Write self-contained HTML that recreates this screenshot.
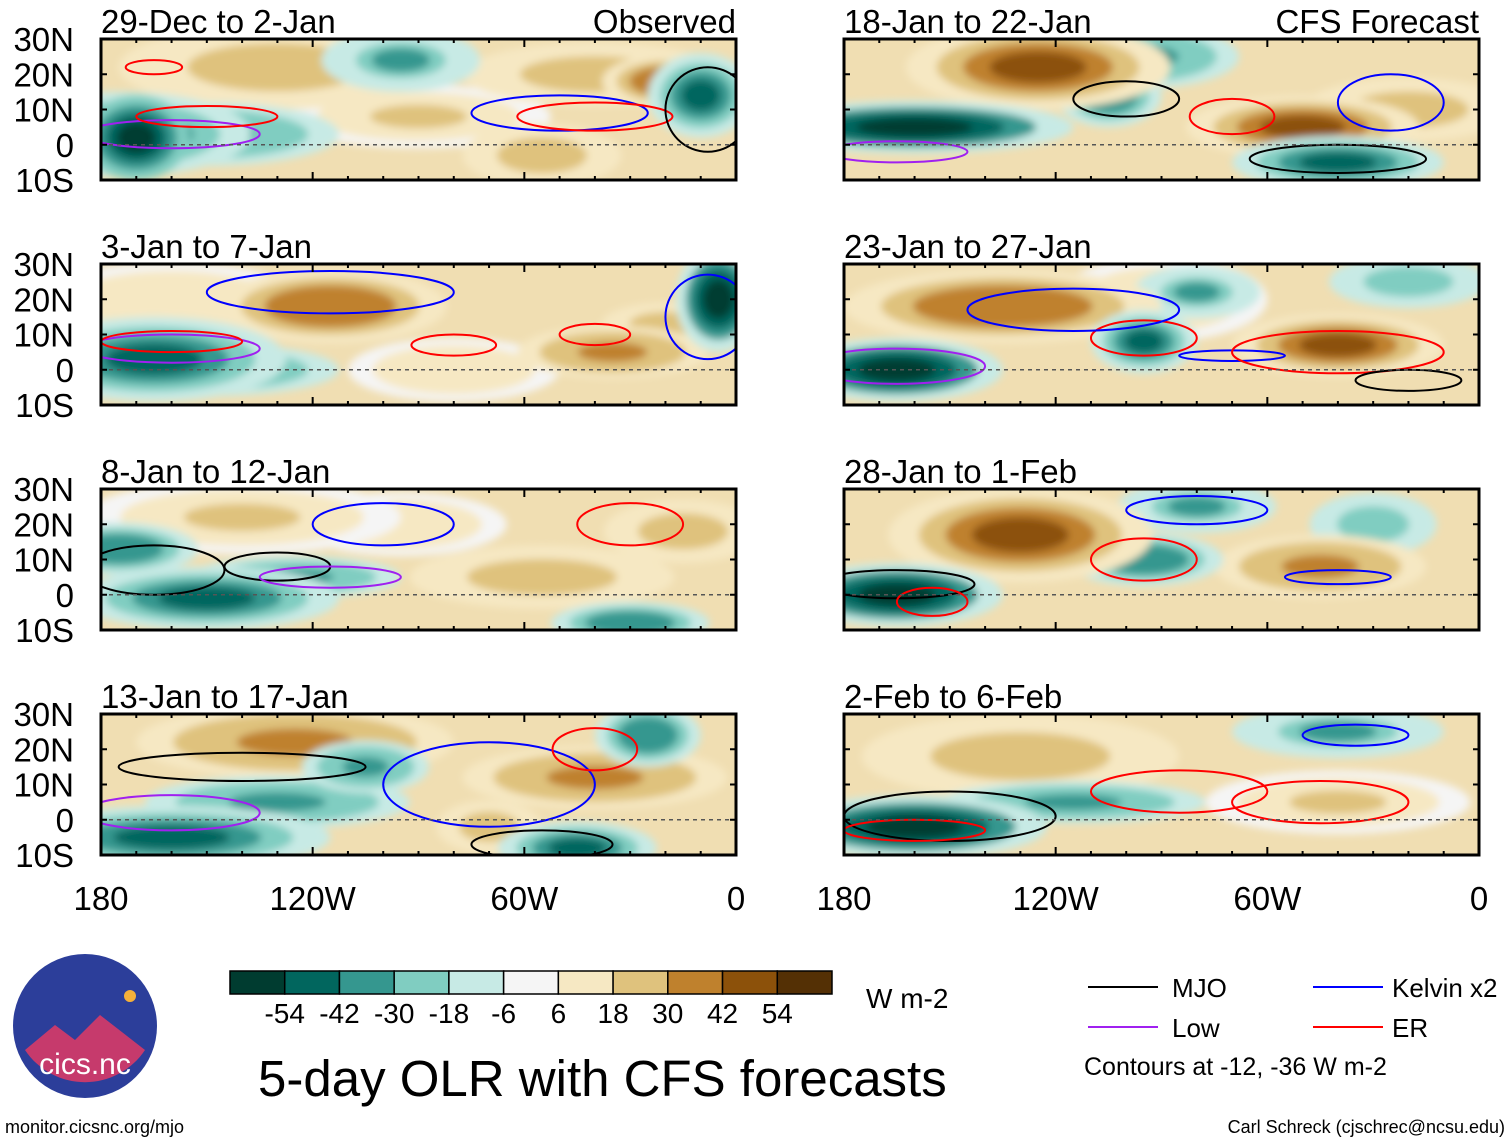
<!DOCTYPE html>
<html><head><meta charset="utf-8"><style>
html,body{margin:0;padding:0;background:#fff;}
svg{display:block;font-family:"Liberation Sans",sans-serif;}
</style></head><body>
<svg id="chart" width="1510" height="1142" viewBox="0 0 1510 1142" xmlns="http://www.w3.org/2000/svg">
<defs>
<filter id="blur" x="-50%" y="-50%" width="200%" height="200%"><feGaussianBlur stdDeviation="4"/></filter>
</defs>
<g id="panels"></g>
<g id="colorbar"></g>
<text x="866" y="1008" font-size="28">W m-2</text>
<text x="258" y="1096" font-size="51">5-day OLR with CFS forecasts</text>
<g font-size="26">
<line x1="1088" y1="987" x2="1158" y2="987" stroke="#000" stroke-width="2"/><text x="1172" y="997">MJO</text>
<line x1="1313" y1="987" x2="1383" y2="987" stroke="#0000ff" stroke-width="2"/><text x="1392" y="997">Kelvin x2</text>
<line x1="1088" y1="1027" x2="1158" y2="1027" stroke="#a020f0" stroke-width="2"/><text x="1172" y="1037">Low</text>
<line x1="1313" y1="1027" x2="1383" y2="1027" stroke="#ff0000" stroke-width="2"/><text x="1392" y="1037">ER</text>
<text x="1084" y="1075" font-size="25">Contours at -12, -36 W m-2</text>
</g>
<g>
<circle cx="85" cy="1026" r="72" fill="#2c3e9a"/>
<path d="M25,1050 L55,1025 L75,1040 L100,1015 L145,1050 A72,72 0 0 1 25,1050Z" fill="#c63a6c"/>
<circle cx="130" cy="996" r="6" fill="#f5b03a"/>
<text x="85" y="1074" font-size="30" fill="#fff" text-anchor="middle">cics.nc</text>
</g>
<text x="5" y="1133" font-size="18">monitor.cicsnc.org/mjo</text>
<text x="1505" y="1133" font-size="18" text-anchor="end">Carl Schreck (cjschrec@ncsu.edu)</text>
</svg>
<script>
const binEdges=[-54,-42,-30,-18,-6,6,18,30,42,54];
const binColors=["#003c30","#01665e","#35978f","#80cdc1","#c7eae5","#f5f5f5","#f6e8c3","#dfc27d","#bf812d","#8c510a","#543005"];
const cbLabels=["-54","-42","-30","-18","-6","6","18","30","42","54"];
const panelTitles=["29-Dec to 2-Jan","3-Jan to 7-Jan","8-Jan to 12-Jan","13-Jan to 17-Jan","18-Jan to 22-Jan","23-Jan to 27-Jan","28-Jan to 1-Feb","2-Feb to 6-Feb"];
const latTicks=["30N","20N","10N","0","10S"];
const latVals=[30,20,10,0,-10];
const lonTicks=["180","120W","60W","0"];
const lonVals=[180,120,60,0];
// blobs: [lonW, lat, value, rxDeg, ryDeg]
const blobs=[
[[130,22,25,30,8],[40,20,30,25,6],[20,18,40,12,5],[55,-3,30,15,6],[175,3,-40,25,8],[150,3,-35,25,6],[170,2,-60,10,8],[95,24,-30,15,6],[10,14,-45,10,8],[90,8,20,25,6]],
[[160,20,18,25,7],[115,18,40,22,7],[35,5,35,18,5],[20,13,30,12,4],[165,3,-50,25,8],[150,0,-40,25,5],[5,20,-55,8,10],[80,0,18,20,6]],
[[140,22,20,30,7],[15,18,25,15,6],[55,5,25,25,6],[175,13,-40,15,5],[150,-1,-45,25,6],[125,5,-35,20,4],[30,-8,-40,15,4],[95,20,15,20,6]],
[[125,22,35,30,7],[40,12,35,25,6],[70,-2,30,10,5],[160,-5,-50,30,6],[130,5,-35,25,5],[105,15,-35,12,5],[25,24,-40,10,6],[45,-8,-45,15,5]],
[[125,22,45,25,8],[50,5,50,22,6],[20,10,25,20,6],[160,5,-55,30,5],[105,14,-40,10,6],[95,25,-35,18,6],[40,-5,-50,20,5]],
[[135,18,40,30,7],[40,7,45,20,6],[90,20,18,20,8],[165,0,-55,20,6],[95,8,-50,10,6],[80,22,-30,12,5],[20,25,-25,15,5]],
[[130,17,50,25,9],[45,8,35,20,6],[165,0,-55,20,6],[95,10,-40,15,5],[80,25,-30,15,5],[30,20,-25,12,6]],
[[130,18,30,30,8],[40,5,20,25,6],[160,-2,-55,25,6],[115,5,-35,25,4],[40,25,-30,20,5]]
];
// contours: [lonW, lat, rxDeg, ryDeg, color]
const contours=[
[[160,3,25,4,"#a020f0"],[150,8,20,3,"#ff0000"],[165,22,8,2,"#ff0000"],[50,9,25,5,"#0000ff"],[40,8,22,4,"#ff0000"],[8,10,12,12,"#000"]],
[[160,6,25,4,"#a020f0"],[160,8,20,3,"#ff0000"],[115,22,35,6,"#0000ff"],[80,7,12,3,"#ff0000"],[40,10,10,3,"#ff0000"],[8,15,12,12,"#0000ff"]],
[[165,7,20,7,"#000"],[130,8,15,4,"#000"],[115,5,20,3,"#a020f0"],[30,20,15,6,"#ff0000"],[100,20,20,6,"#0000ff"]],
[[140,15,35,4,"#000"],[160,2,25,5,"#a020f0"],[70,10,30,12,"#0000ff"],[40,20,12,6,"#ff0000"],[55,-7,20,4,"#000"]],
[[100,13,15,5,"#000"],[25,12,15,8,"#0000ff"],[70,8,12,5,"#ff0000"],[40,-4,25,4,"#000"],[165,-2,20,3,"#a020f0"]],
[[165,1,25,5,"#a020f0"],[95,9,15,5,"#ff0000"],[115,17,30,6,"#0000ff"],[70,4,15,1.5,"#0000ff"],[40,5,30,6,"#ff0000"],[20,-3,15,3,"#000"]],
[[165,3,22,4,"#000"],[95,10,15,6,"#ff0000"],[155,-2,10,4,"#ff0000"],[80,24,20,4,"#0000ff"],[40,5,15,2,"#0000ff"]],
[[150,1,30,7,"#000"],[160,-3,20,3,"#ff0000"],[85,8,25,6,"#ff0000"],[35,24,15,3,"#0000ff"],[45,5,25,6,"#ff0000"]]
];
const NS="http://www.w3.org/2000/svg";
function mk(tag,attrs,parent){const e=document.createElementNS(NS,tag);for(const k in attrs)e.setAttribute(k,attrs[k]);parent.appendChild(e);return e;}
function colorOf(v){let i=0;while(i<binEdges.length&&v>binEdges[i])i++;return binColors[i];}
const panelsG=document.getElementById('panels');
const colX=[101,844],rowY=[39,264,489,714],PW=635,PH=141;
const ringSize=[1.5,1.15,0.85,0.55],ringVal=[0.3,0.55,0.8,1.0];
panelTitles.forEach((title,p)=>{
  const col=p<4?0:1,row=p%4,x0=colX[col],y0=rowY[row];
  const xs=lon=>x0+(180-lon)/180*PW, ys=lat=>y0+(30-lat)/40*PH;
  const g=mk('g',{},panelsG);
  
  
  const cp=mk('clipPath',{id:'c'+p},g);
  mk('rect',{x:x0,y:y0,width:PW,height:PH},cp);
  const inner=mk('g',{'clip-path':'url(#c'+p+')'},g);
  mk('rect',{x:x0,y:y0,width:PW,height:PH,fill:"#f0deb2"},inner);
  const bg=mk('g',{filter:'url(#blur)'},inner);
  const sorted=blobs[p].slice().sort((a,b)=>Math.abs(a[2])-Math.abs(b[2]));
  sorted.forEach(b=>{
    const sx=PW/180,sy=PH/40;
    ringSize.forEach((s,k)=>{
      const v=b[2]*ringVal[k];
      const e=mk('ellipse',{cx:xs(b[0]),cy:ys(b[1]),rx:b[3]*sx*s,ry:b[4]*sy*s,fill:colorOf(v)},bg);
      
      
    });
  });
  contours[p].forEach(c=>{
    const e=mk('ellipse',{cx:xs(c[0]),cy:ys(c[1]),rx:c[2]*PW/180,ry:c[3]*PH/40,fill:'none',stroke:c[4],'stroke-width':2},inner);
    
    
  });
  mk('line',{x1:x0,y1:ys(0),x2:x0+PW,y2:ys(0),stroke:'#555','stroke-width':1.5,'stroke-dasharray':'4,4'},inner);
  const fr=mk('rect',{x:x0,y:y0,width:PW,height:PH,fill:'none',stroke:'#000','stroke-width':3},g);
  
  
  for(let l=0;l<=180;l+=10){const tx=xs(l),len=l%60===0?8:4;
    mk('line',{x1:tx,y1:y0,x2:tx,y2:y0+len,stroke:'#000','stroke-width':2},g);
    mk('line',{x1:tx,y1:y0+PH,x2:tx,y2:y0+PH-len,stroke:'#000','stroke-width':2},g);}
  latVals.forEach(v=>{mk('line',{x1:x0,y1:ys(v),x2:x0+6,y2:ys(v),stroke:'#000','stroke-width':2},g);mk('line',{x1:x0+PW,y1:ys(v),x2:x0+PW-6,y2:ys(v),stroke:'#000','stroke-width':2},g);});
  const t=mk('text',{x:x0,y:y0-6,'font-size':33},g);t.textContent=title;
  
  
  if(row===0){const r=mk('text',{x:x0+PW,y:y0-6,'font-size':33,'text-anchor':'end'},g);r.textContent=col===0?'Observed':'CFS Forecast';
    
    }
  if(col===0){latTicks.forEach((lab,i)=>{const tt=mk('text',{x:74,y:ys(latVals[i])+12,'font-size':33,'text-anchor':'end'},g);tt.textContent=lab;
    
    });}
  if(row===3){lonTicks.forEach((lab,i)=>{const tt=mk('text',{x:xs(lonVals[i]),y:910,'font-size':33,'text-anchor':'middle'},g);tt.textContent=lab;
    
    });}
});
const cb=document.getElementById('colorbar');
const cbX=230,cbW=602,cbY=971,cbH=23,bw=cbW/binColors.length;
binColors.forEach((c,i)=>{const r=mk('rect',{x:cbX+i*bw,y:cbY,width:bw,height:cbH,fill:c,stroke:'#000','stroke-width':1.5},cb);
  
  });
cbLabels.forEach((l,i)=>{const t=mk('text',{x:cbX+(i+1)*bw,y:1023,'font-size':28,'text-anchor':'middle'},cb);t.textContent=l;
  
  });
</script>
</body></html>
